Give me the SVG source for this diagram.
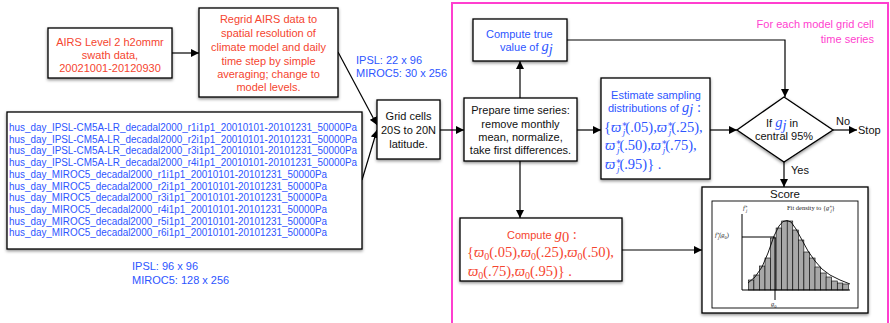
<svg xmlns="http://www.w3.org/2000/svg" width="890" height="323" viewBox="0 0 890 323">
<defs>
<filter id="sh" x="-10%" y="-10%" width="120%" height="130%">
<feDropShadow dx="0" dy="1.5" stdDeviation="1.5" flood-color="#000" flood-opacity="0.45"/>
</filter>
<marker id="ah" viewBox="0 0 10 10" refX="10" refY="5" markerWidth="8" markerHeight="8" markerUnits="userSpaceOnUse" orient="auto">
<path d="M0,0 L10,5 L0,10 z" fill="#000"/>
</marker>
<style>
.box{fill:#fff;stroke:#000;stroke-width:1.3;filter:url(#sh)}
.t{font-family:"Liberation Sans",Arial,sans-serif;font-size:11px}
.c{text-anchor:middle}
.red{fill:#f5452f}
.blue{fill:#2d55ff}
.blk{fill:#111}
.mag{fill:#ff3fcf}
.m{font-family:"Liberation Serif","DejaVu Serif",serif;font-size:14.5px}
.i{font-style:italic}
.arr{fill:none;stroke:#000;stroke-width:1.2;marker-end:url(#ah)}
.s{font-family:"Liberation Serif","DejaVu Serif",serif;font-size:6.5px;fill:#222}
.f{font-family:"Liberation Sans",Arial,sans-serif;font-size:10px}
</style>
</defs>
<rect width="890" height="323" fill="#fff"/>

<rect x="452" y="3" width="436" height="325" fill="none" stroke="#ff3fcf" stroke-width="2"/>
<text class="t mag" x="874" y="28" text-anchor="end">For each model grid cell</text>
<text class="t mag" x="874" y="43" text-anchor="end">time series</text>

<g id="connectors">
<path class="arr" d="M172,53 L199,53"/>
<path class="arr" d="M338,52 L377,125"/>
<path class="arr" d="M362,180 L377,130"/>
<path class="arr" d="M440,130 L464,130"/>
<path class="arr" d="M520,98 L520,61"/>
<path class="arr" d="M520,161 L520,218"/>
<path class="arr" d="M577,130 L601,130"/>
<path class="arr" d="M710,130 L737,130"/>
<path class="arr" d="M567,40 L785,40 L785,97"/>
<path class="arr" d="M833,130 L857,130"/>
<path class="arr" d="M784,161 L784,187"/>
<path class="arr" d="M622,250 L702,250"/>
<text class="t blk" x="843" y="125" text-anchor="middle">No</text>
<text class="t blk" x="858" y="134">Stop</text>
<text class="t blk" x="791" y="174">Yes</text>
</g>

<g id="airs">
<rect class="box" x="48" y="28" width="124" height="50"/>
<text class="t c red" x="110" y="46">AIRS Level 2 h2ommr</text>
<text class="t c red" x="110" y="58.5">swath data,</text>
<text class="t c red" x="110" y="72">20021001-20120930</text>
</g>

<g id="regrid">
<rect class="box" x="199" y="8" width="139" height="89"/>
<text class="t c red" x="268.5" y="23">Regrid AIRS data to</text>
<text class="t c red" x="268.5" y="37">spatial resolution of</text>
<text class="t c red" x="268.5" y="50.5">climate model and daily</text>
<text class="t c red" x="268.5" y="64.5">time step by simple</text>
<text class="t c red" x="268.5" y="77.5">averaging; change to</text>
<text class="t c red" x="268.5" y="91">model levels.</text>
</g>

<text class="t blue" x="356" y="64">IPSL: 22 x 96</text>
<text class="t blue" x="356" y="77">MIROC5: 30 x 256</text>

<g id="files">
<rect class="box" x="7" y="112" width="355" height="137"/>
<g class="f blue">
<text x="9" y="131" textLength="348" lengthAdjust="spacingAndGlyphs">hus_day_IPSL-CM5A-LR_decadal2000_r1i1p1_20010101-20101231_50000Pa</text>
<text x="9" y="142.7" textLength="348" lengthAdjust="spacingAndGlyphs">hus_day_IPSL-CM5A-LR_decadal2000_r2i1p1_20010101-20101231_50000Pa</text>
<text x="9" y="154.4" textLength="348" lengthAdjust="spacingAndGlyphs">hus_day_IPSL-CM5A-LR_decadal2000_r3i1p1_20010101-20101231_50000Pa</text>
<text x="9" y="166.1" textLength="348" lengthAdjust="spacingAndGlyphs">hus_day_IPSL-CM5A-LR_decadal2000_r4i1p1_20010101-20101231_50000Pa</text>
<text x="9" y="177.8" textLength="318" lengthAdjust="spacingAndGlyphs">hus_day_MIROC5_decadal2000_r1i1p1_20010101-20101231_50000Pa</text>
<text x="9" y="189.5" textLength="318" lengthAdjust="spacingAndGlyphs">hus_day_MIROC5_decadal2000_r2i1p1_20010101-20101231_50000Pa</text>
<text x="9" y="201.2" textLength="318" lengthAdjust="spacingAndGlyphs">hus_day_MIROC5_decadal2000_r3i1p1_20010101-20101231_50000Pa</text>
<text x="9" y="212.9" textLength="318" lengthAdjust="spacingAndGlyphs">hus_day_MIROC5_decadal2000_r4i1p1_20010101-20101231_50000Pa</text>
<text x="9" y="224.6" textLength="318" lengthAdjust="spacingAndGlyphs">hus_day_MIROC5_decadal2000_r5i1p1_20010101-20101231_50000Pa</text>
<text x="9" y="236.3" textLength="318" lengthAdjust="spacingAndGlyphs">hus_day_MIROC5_decadal2000_r6i1p1_20010101-20101231_50000Pa</text>
</g>
</g>

<text class="t blue" x="132" y="270">IPSL: 96 x 96</text>
<text class="t blue" x="132" y="284">MIROC5: 128 x 256</text>

<g id="grid">
<rect class="box" x="377" y="100" width="63" height="59"/>
<text class="t c blk" x="408.5" y="120">Grid cells</text>
<text class="t c blk" x="408.5" y="134">20S to 20N</text>
<text class="t c blk" x="408.5" y="147.5">latitude.</text>
</g>

<g id="prepare">
<rect class="box" x="464" y="98" width="113" height="63"/>
<text class="t c blk" x="520.5" y="114">Prepare time series:</text>
<text class="t c blk" x="520.5" y="127.5">remove monthly</text>
<text class="t c blk" x="520.5" y="141">mean, normalize,</text>
<text class="t c blk" x="520.5" y="154">take first differences.</text>
</g>

<g id="truevalue">
<rect class="box" x="473" y="19" width="94" height="42"/>
<text class="t blue" x="486" y="38">Compute true</text>
<text class="t blue" x="500" y="51">value of <tspan class="m i" font-size="13">g</tspan><tspan class="m i" font-size="9" dy="2.5">j</tspan></text>
</g>

<g id="estimate">
<rect class="box" x="601" y="78" width="109" height="101"/>
<text class="t c blue" x="656" y="99">Estimate sampling</text>
<text class="t blue" x="608" y="111.5">distributions of <tspan class="m i" font-size="13">g</tspan><tspan class="m i" font-size="9" dy="2.5">j</tspan><tspan class="m" font-size="13" dy="-2.5"> :</tspan></text>
<text class="m blue" x="604" y="131.5">{<tspan class="i">ϖ</tspan><tspan font-size="9" dy="-5">∗</tspan><tspan class="i" font-size="9" dx="-4.5" dy="8">j</tspan><tspan dy="-3">(.05),</tspan><tspan class="i">ϖ</tspan><tspan font-size="9" dy="-5">∗</tspan><tspan class="i" font-size="9" dx="-4.5" dy="8">j</tspan><tspan dy="-3">(.25),</tspan></text>
<text class="m blue" x="605" y="150"><tspan class="i">ϖ</tspan><tspan font-size="9" dy="-5">∗</tspan><tspan class="i" font-size="9" dx="-4.5" dy="8">j</tspan><tspan dy="-3">(.50),</tspan><tspan class="i">ϖ</tspan><tspan font-size="9" dy="-5">∗</tspan><tspan class="i" font-size="9" dx="-4.5" dy="8">j</tspan><tspan dy="-3">(.75),</tspan></text>
<text class="m blue" x="605" y="168.5"><tspan class="i">ϖ</tspan><tspan font-size="9" dy="-5">∗</tspan><tspan class="i" font-size="9" dx="-4.5" dy="8">j</tspan><tspan dy="-3">(.95)} .</tspan></text>
</g>

<g id="decision">
<path d="M784,97 L833,130 L784,162 L737,130 Z" fill="#fff" stroke="#000" stroke-width="1.3" filter="url(#sh)"/>
<text class="t blk" x="766" y="127">If <tspan class="m i blue" font-size="13">g</tspan><tspan class="m i blue" font-size="9" dy="2.5">j</tspan><tspan dy="-2.5">  in</tspan></text>
<text class="t c blk" x="784" y="140">central 95%</text>
</g>

<g id="g0">
<rect class="box" x="460" y="218" width="162" height="63"/>
<text class="t red" x="507" y="239">Compute <tspan class="m i" font-size="13">g</tspan><tspan class="m" font-size="9" dy="2.5">0</tspan><tspan class="m" font-size="13" dy="-2.5"> :</tspan></text>
<text class="m red" x="467" y="257">{<tspan class="i">ϖ</tspan><tspan font-size="10" dy="3">0</tspan><tspan dy="-3">(.05),</tspan><tspan class="i">ϖ</tspan><tspan font-size="10" dy="3">0</tspan><tspan dy="-3">(.25),</tspan><tspan class="i">ϖ</tspan><tspan font-size="10" dy="3">0</tspan><tspan dy="-3">(.50),</tspan></text>
<text class="m red" x="468" y="276"><tspan class="i">ϖ</tspan><tspan font-size="10" dy="3">0</tspan><tspan dy="-3">(.75),</tspan><tspan class="i">ϖ</tspan><tspan font-size="10" dy="3">0</tspan><tspan dy="-3">(.95)} .</tspan></text>
</g>

<g id="score">
<rect class="box" x="702" y="187" width="166" height="126"/>
<text class="t c blk" x="785" y="198" style="font-size:11.5px">Score</text>
<rect x="712" y="201" width="146" height="107" fill="#fff" stroke="#000" stroke-width="0.9"/>
<g fill="#a8a8a8" stroke="#000" stroke-width="0.6">
<rect x="748.3" y="280" width="5.56" height="10"/>
<rect x="753.9" y="275" width="5.56" height="15"/>
<rect x="759.4" y="266" width="5.56" height="24"/>
<rect x="765.0" y="258" width="5.56" height="32"/>
<rect x="770.5" y="238" width="5.56" height="52"/>
<rect x="776.1" y="228" width="5.56" height="62"/>
<rect x="781.7" y="221" width="5.56" height="69"/>
<rect x="787.2" y="221" width="5.56" height="69"/>
<rect x="792.8" y="230" width="5.56" height="60"/>
<rect x="798.3" y="240" width="5.56" height="50"/>
<rect x="803.9" y="252" width="5.56" height="38"/>
<rect x="809.5" y="258" width="5.56" height="32"/>
<rect x="815.0" y="267" width="5.56" height="23"/>
<rect x="820.6" y="273" width="5.56" height="17"/>
<rect x="826.1" y="277" width="5.56" height="13"/>
<rect x="831.7" y="281" width="5.56" height="9"/>
<rect x="837.3" y="283" width="5.56" height="7"/>
<rect x="842.8" y="284" width="5.56" height="6"/>
</g>
<polyline fill="none" stroke="#000" stroke-width="0.9" points="748,283 755,277 762,267 768,253 774,236 779,226 783,221.5 787,220.5 791,222 796,229 802,240 808,251 815,261 822,269 830,275 840,280 850,284"/>
<path d="M742,214 L742,290 L850,290" fill="none" stroke="#000" stroke-width="1"/>
<path d="M742,237 L775,237 M775,237 L775,300" fill="none" stroke="#000" stroke-width="1"/>
<text class="s" x="743" y="210" font-style="italic">f<tspan font-size="4.5" dy="-2.5">∗</tspan><tspan font-size="4.5" dx="-2" dy="4">j</tspan></text>
<text class="s" x="787" y="210">Fit density to {<tspan font-style="italic">g</tspan><tspan font-size="4.5" dy="-2.5">∗</tspan><tspan font-size="4.5" font-style="italic" dx="-2" dy="4">j</tspan><tspan dy="-1.5">}</tspan></text>
<text class="s" x="715" y="237"><tspan font-style="italic">f</tspan><tspan font-size="4.5" dy="-2.5">∗</tspan><tspan font-size="4.5" font-style="italic" dx="-2" dy="4">j</tspan><tspan dy="-1.5">(</tspan><tspan font-style="italic">g</tspan><tspan font-size="4.5" dy="1.5">0</tspan><tspan dy="-1.5">)</tspan></text>
<text class="s" x="771" y="306"><tspan font-style="italic">g</tspan><tspan font-size="4.5" dy="1.5">0</tspan></text>
</g>
</svg>
